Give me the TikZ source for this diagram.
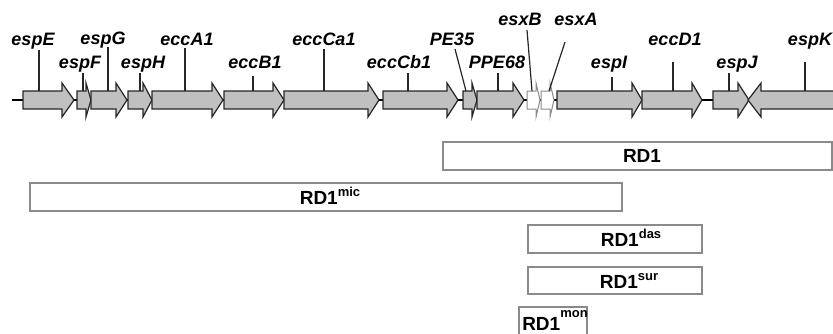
\documentclass[tikz,border=0pt]{standalone}
\usepackage{fontspec}
\setmainfont{Liberation Sans}
\usepackage{xcolor}
\usepackage{tikz}
\definecolor{genegray}{HTML}{C0C0C0}
\definecolor{boxgray}{HTML}{8A8A8A}
\tikzset{
    gene/.style={fill=genegray, draw=black!85, line width=1.2pt, line join=miter},
    esxgene/.style={fill=white, draw=boxgray, line width=1pt, line join=miter},
    backbone/.style={draw=black, line width=2.6pt},
    genetick/.style={draw=black!85, line width=1.2pt},
    genelabel/.style={font=\fontsize{18}{20}\selectfont\bfseries\itshape, anchor=base, inner sep=0pt},
    region/.style={draw=boxgray, fill=white, line width=1.1pt},
    regionlabel/.style={font=\fontsize{19}{22}\selectfont\bfseries, anchor=base, inner sep=0pt}
}
\newcommand{\rdname}[2]{RD1\raisebox{#2}{\fontsize{13}{13}\selectfont #1}}

\begin{document}
\begin{tikzpicture}[x=1pt, y=-1pt]
            \useasboundingbox (0,0) rectangle (833,333);

            % Chromosome line
            \coordinate (chrL) at (12,100);
            \coordinate (chrR) at (748,100);
            \draw[backbone] (chrL) -- (chrR);

            % Genes pointing right: name / start / head base / tip / style
            \foreach \g/\xs/\xb/\xt/\st in {espE/23/62/74/gene, espF/77/86/91/gene,
                espG/91/116/127/gene, espH/128/143/152/gene, eccA1/152/212/223/gene,
                eccB1/224/273/284/gene, eccCa1/284/368/379/gene, eccCb1/383/447/458/gene,
                PE35/463/472/477/gene, PPE68/477/513/524/gene, esxB/527/536/540/esxgene,
                esxA/541/550/554/esxgene, espI/557/632/642/gene, eccD1/642/692/702/gene,
                espJ/713/738/749/gene} {
                \draw[\st] (\xs,91) -- (\xb,91) -- (\xb,83) -- (\xt,100) -- (\xb,117)
                    -- (\xb,109) -- (\xs,109) -- cycle;
            }

            % espK points left
            \draw[gene] (840,91) -- (761,91) -- (761,83) -- (748,100) -- (761,117)
                -- (761,109) -- (840,109);

            % Gene names
            \foreach \g/\lx/\ly in {espE/33/45, espF/80/68, espG/103/44, espH/143/68,
                eccA1/187/45, eccB1/255/68, eccCa1/324/45, eccCb1/399/68, PE35/452/45,
                PPE68/497/68, esxB/520/25, esxA/576/25, espI/609/68, eccD1/675/45,
                espJ/737/68, espK/810/45} {
                \node[genelabel] (l-\g) at (\lx,\ly) {\g};
            }

            % Ticks from names to genes
            \foreach \g/\tx/\ty/\bx in {espE/39/50/39, espF/83/73/83, espG/108/47/108,
                espH/140/73/140, eccA1/185/48/185, eccB1/253/76/253, eccCa1/324/49/324,
                eccCb1/408/73/408, PE35/455/49/466, PPE68/498/73/498, esxB/527/30/532,
                esxA/565/42/549, espI/612/77/612, eccD1/673/62/673, espJ/729/73/729,
                espK/805/62/805} {
                \coordinate (t-\g) at (\tx,\ty);
                \coordinate (b-\g) at (\bx,91);
                \draw[genetick] (t-\g) -- (b-\g);
            }

            % Deletions
            \draw[region] (443,142) rectangle (832,170);
            \node[regionlabel] (rd1) at (642,162) {RD1};

            \draw[region] (30,183) rectangle (622,211);
            \node[regionlabel] (rdmic) at (330,204) {\rdname{mic}{8pt}};

            \draw[region] (528,225) rectangle (702,253);
            \node[regionlabel] (rddas) at (631,246) {\rdname{das}{8pt}};

            \draw[region] (528,267) rectangle (702,294);
            \node[regionlabel] (rdsur) at (629,288) {\rdname{sur}{8pt}};

            \draw[region] (519,307) rectangle (587,340);
            \node[regionlabel] (rdmon) at (555,330) {\rdname{mon}{13pt}};
        \end{tikzpicture}
\end{document}
